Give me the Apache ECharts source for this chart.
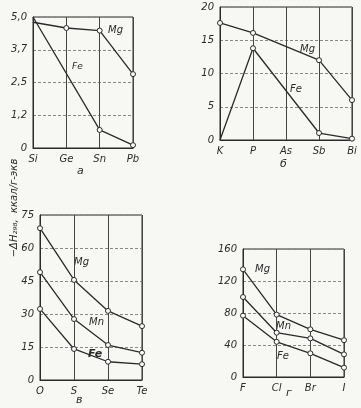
<!DOCTYPE html>
<html><head><meta charset="utf-8">
<script src="https://cdn.jsdelivr.net/npm/echarts@6/dist/echarts.min.js"></script>
<style>html,body{margin:0;padding:0;background:#f7f7f4;}#c{width:361px;height:408px;}</style>
</head><body><div id="c"></div>
<script>
// Panel а
const catA = ['Si','Ge','Sn','Pb'];
const mgA = [4.8, 4.58, 4.48, 2.82];
const feA = [5.0, null, 0.69, 0.11];
const ticksA = {0:'0',1.25:'1,2',2.5:'2,5',3.75:'3,7',5:'5,0'};
// Panel б
const catB = ['K','P','As','Sb','Bi'];
const mgB = [17.6, 16.1, null, 12.0, 6.0];
const feB = [0, 13.8, null, 1.05, 0.2];
// Panel в
const catC = ['O','S','Se','Te'];
const mgC = [69, 45.5, 31.4, 24.5];
const mnC = [49, 27.7, 15.9, 12.4];
const feC = [32.3, 14.1, 8.3, 7.2];
// Panel г
const catD = ['F','Cl','Br','I'];
const mgD = [134.6, 78, 59.6, 46];
const mnD = [100, 55.4, 48.3, 28.3];
const feD = [76.7, 44, 29.6, 11.7];

const INK = '#2a2a2a';
const font = {fontFamily:'DejaVu Sans', fontStyle:'italic', color:INK, fontSize:10};

const grids = [
  {left:33, top:17, width:100, height:131},
  {left:220, top:7, width:132, height:133},
  {left:40, top:215, width:102, height:165},
  {left:243, top:249, width:101, height:128}
].map(g=>Object.assign({show:true, borderColor:INK, borderWidth:1, backgroundColor:'transparent'}, g));

function xAx(i, data){
  return {type:'category', gridIndex:i, data, boundaryGap:false,
    axisLine:{show:true, lineStyle:{color:INK}}, axisTick:{show:false},
    axisLabel:Object.assign({margin:6, interval:0}, font),
    splitLine:{show:true, lineStyle:{color:'#444', width:1}}};
}
function yAx(i, max, interval, fmt){
  return {type:'value', gridIndex:i, min:0, max, interval,
    axisLine:{show:true, lineStyle:{color:INK}}, axisTick:{show:false},
    axisLabel:Object.assign({margin:6, formatter: fmt || (v=>String(v))}, font),
    splitLine:{show:true, lineStyle:{color:'#888', width:1, type:[3,2]}}};
}
function pts(arr, noSym){
  return arr.map((v,i)=> (noSym && noSym.indexOf(i)>=0) ? {value:v, symbol:'none'} : v);
}
function ser(i, data, noSym){
  return {type:'line', xAxisIndex:i, yAxisIndex:i, data:pts(data,noSym), connectNulls:true,
    symbol:'circle', symbolSize:5, showSymbol:true,
    itemStyle:{color:'#fafafa', borderColor:INK, borderWidth:1},
    lineStyle:{color:INK, width:1.3}, silent:true, animation:false};
}
function txt(x,y,t,size,extra){
  return {type:'text', left:x, top:y, style:Object.assign({text:t, fill:INK, font:'italic '+(size||10)+'px "DejaVu Sans"'}, extra||{})};
}

const chart = echarts.init(document.getElementById('c'), null, {renderer:'canvas'});
chart.setOption({
  backgroundColor:'#f7f7f4',
  animation:false,
  grid: grids,
  xAxis:[xAx(0,catA), xAx(1,catB), xAx(2,catC), xAx(3,catD)],
  yAxis:[yAx(0,5,1.25,v=>ticksA[v]), yAx(1,20,5), yAx(2,75,15), yAx(3,160,40)],
  series:[
    ser(0, mgA, [0]), ser(0, feA, [0]),
    ser(1, mgB), ser(1, feB, [0]),
    ser(2, mgC), ser(2, mnC), ser(2, feC),
    ser(3, mgD), ser(3, mnD), ser(3, feD)
  ],
  graphic:[
    txt(108,25,'Mg'), txt(72,62,'Fe',9),
    txt(77,166,'а',11),
    txt(300,44,'Mg'), txt(290,84,'Fe'),
    txt(280,159,'б',11),
    txt(74,257,'Mg'), txt(89,317,'Mn'), txt(88,349,'Fe',11,{font:'italic bold 11px "DejaVu Sans"'}),
    txt(76,395,'в',11),
    txt(255,264,'Mg'), txt(276,321,'Mn'), txt(277,351,'Fe'),
    txt(286,388,'г',11),
    {type:'text', x:14, y:208, rotation:Math.PI/2,
     style:{text:'−ΔH₂₉₈,  ккал/г-экв', fill:INK, font:'italic 10px "DejaVu Sans"', align:'center', verticalAlign:'middle'}}
  ]
});
</script></body></html>
